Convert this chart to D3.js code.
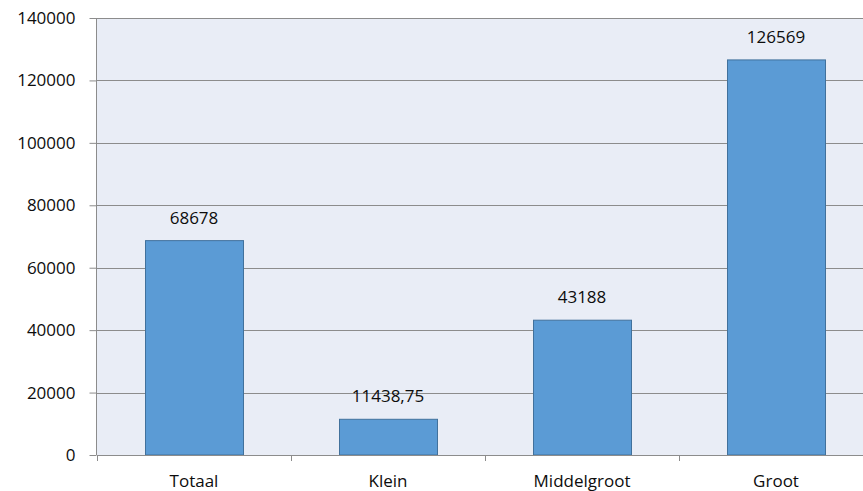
<!DOCTYPE html>
<html>
<head>
<meta charset="utf-8">
<script src="https://cdn.jsdelivr.net/npm/d3@7"></script>
<style>
  html, body { margin: 0; padding: 0; background: #ffffff; }
  svg { display: block; }
  text { font-family: "Open Sans", "Noto Sans", sans-serif; fill: #0d0d0d; }
</style>
</head>
<body>
<svg id="chart" width="863" height="491"></svg>
<script>
// Chart data
const categories = ["Totaal", "Klein", "Middelgroot", "Groot"];
const values = [68678, 11438.75, 43188, 126569];
const valueLabels = ["68678", "11438,75", "43188", "126569"];
const yTicks = [0, 20000, 40000, 60000, 80000, 100000, 120000, 140000];

const svg = d3.select("#chart");
const plot = { left: 97, right: 873, top: 18, bottom: 455 };

const x = d3.scaleBand()
  .domain(categories)
  .range([plot.left, plot.right])
  .paddingInner(0.495)
  .paddingOuter(0.2475);

const y = d3.scaleLinear()
  .domain([0, 140000])
  .range([plot.bottom, plot.top]);

// Plot background
svg.append("rect")
  .attr("x", plot.left)
  .attr("y", plot.top)
  .attr("width", plot.right - plot.left)
  .attr("height", plot.bottom - plot.top)
  .attr("fill", "#e9edf6");

// Horizontal gridlines
svg.append("g")
  .selectAll("line")
  .data(yTicks.filter(d => d > 0))
  .join("line")
  .attr("x1", plot.left)
  .attr("x2", plot.right)
  .attr("y1", d => Math.round(y(d)) + 0.5)
  .attr("y2", d => Math.round(y(d)) + 0.5)
  .attr("stroke", "#8c8c8c")
  .attr("stroke-width", 1);

// Bars
svg.append("g")
  .selectAll("rect")
  .data(values)
  .join("rect")
  .attr("x", (d, i) => Math.round(x(categories[i])) + 0.5)
  .attr("y", d => y(d))
  .attr("width", Math.round(x.bandwidth()))
  .attr("height", d => y(0) - y(d))
  .attr("fill", "#5b9bd5")
  .attr("stroke", "#41719c")
  .attr("stroke-width", 1);

// Value labels above bars
svg.append("g")
  .selectAll("text")
  .data(values)
  .join("text")
  .attr("x", (d, i) => x(categories[i]) + x.bandwidth() / 2)
  .attr("y", d => y(d) - 17)
  .attr("text-anchor", "middle")
  .attr("font-size", 17)
  .text((d, i) => valueLabels[i]);

// Y axis
const yAxis = d3.axisLeft(y)
  .tickValues(yTicks)
  .tickSize(7)
  .tickPadding(14)
  .tickFormat(d3.format("d"));

const gy = svg.append("g")
  .attr("transform", `translate(${plot.left - 0.5},0)`)
  .call(yAxis);
gy.select(".domain").attr("stroke", "#8c8c8c").attr("d", `M0,${plot.top}V${plot.bottom}`);
gy.selectAll(".tick line").attr("stroke", "#8c8c8c");
gy.selectAll(".tick text")
  .attr("font-size", 17)
  .attr("font-family", "\"Open Sans\", sans-serif")
  .attr("fill", "#0d0d0d");

// X axis: category labels, with ticks between categories
const xAxis = d3.axisBottom(x).tickSize(0).tickPadding(19);
const gx = svg.append("g")
  .attr("transform", `translate(0,${plot.bottom + 0.5})`)
  .call(xAxis);
gx.select(".domain").attr("stroke", "#8c8c8c").attr("d", `M${plot.left},0H${plot.right}`);
gx.selectAll(".tick text")
  .attr("font-size", 17)
  .attr("font-family", "\"Open Sans\", sans-serif")
  .attr("fill", "#0d0d0d");

const step = x.step();
const boundaries = d3.range(categories.length + 1).map(i => plot.left + i * step);
svg.append("g")
  .selectAll("line")
  .data(boundaries)
  .join("line")
  .attr("x1", d => Math.round(d) + 0.5)
  .attr("x2", d => Math.round(d) + 0.5)
  .attr("y1", plot.bottom)
  .attr("y2", plot.bottom + 6)
  .attr("stroke", "#8c8c8c");
</script>
</body>
</html>
